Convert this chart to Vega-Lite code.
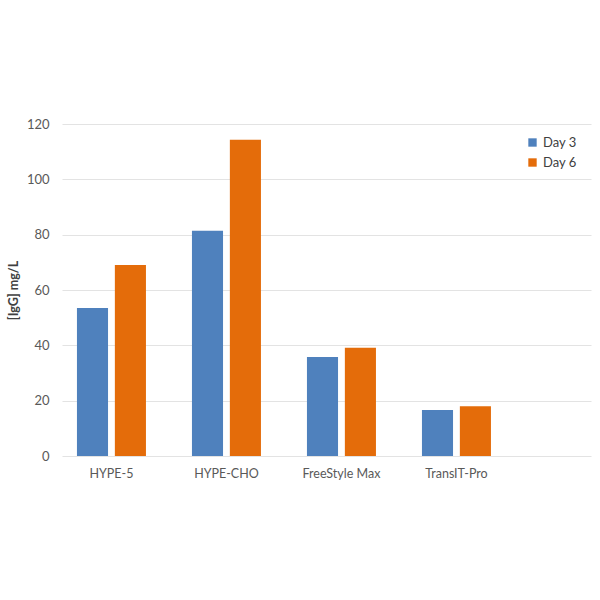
{
  "$schema": "https://vega.github.io/schema/vega-lite/v6.json",
  "width": 529,
  "height": 332,
  "autosize": "none",
  "padding": {"left": 62, "top": 124, "right": 9, "bottom": 144},
  "background": "white",
  "config": {
    "view": {"stroke": null},
    "font": "Lato",
    "axis": {"labelFont": "Lato", "titleFont": "Lato", "labelColor": "#595959", "titleColor": "#404040"}
  },
  "data": {
    "values": [
      {"system": "HYPE-5", "day": "Day 3", "igg": 53.5},
      {"system": "HYPE-5", "day": "Day 6", "igg": 69.0},
      {"system": "HYPE-CHO", "day": "Day 3", "igg": 81.4},
      {"system": "HYPE-CHO", "day": "Day 6", "igg": 114.3},
      {"system": "FreeStyle Max", "day": "Day 3", "igg": 35.8},
      {"system": "FreeStyle Max", "day": "Day 6", "igg": 39.1},
      {"system": "TransIT-Pro", "day": "Day 3", "igg": 16.6},
      {"system": "TransIT-Pro", "day": "Day 6", "igg": 18.0}
    ]
  },
  "mark": {"type": "bar"},
  "encoding": {
    "x": {
      "field": "system",
      "type": "nominal",
      "sort": ["HYPE-5", "HYPE-CHO", "FreeStyle Max", "TransIT-Pro"],
      "scale": {"paddingInner": 0.4, "paddingOuter": 0.5, "align": 0.13},
      "axis": {
        "title": null,
        "labelAngle": 0,
        "labelFontSize": 12.5,
        "labelPadding": 11,
        "ticks": false,
        "domain": false,
        "grid": false
      }
    },
    "xOffset": {
      "field": "day",
      "type": "nominal",
      "scale": {"paddingInner": 0.18}
    },
    "y": {
      "field": "igg",
      "type": "quantitative",
      "scale": {"domain": [0, 120]},
      "axis": {
        "title": "[IgG] mg/L",
        "titleFontSize": 12.5,
        "titleFontWeight": "bold",
        "titleX": -42,
        "values": [0, 20, 40, 60, 80, 100, 120],
        "labelFontSize": 13,
        "labelPadding": 13,
        "ticks": false,
        "domain": false,
        "gridColor": "#e3e3e3",
        "gridWidth": 1
      }
    },
    "color": {
      "field": "day",
      "type": "nominal",
      "scale": {"domain": ["Day 3", "Day 6"], "range": ["#4f81bd", "#e46c0a"]},
      "legend": {
        "title": null,
        "orient": "none",
        "legendX": 464,
        "legendY": 12,
        "symbolType": "square",
        "symbolSize": 70,
        "symbolStrokeWidth": 0,
        "labelFontSize": 13,
        "labelColor": "#404040",
        "rowPadding": 6,
        "labelOffset": 4
      }
    }
  }
}
